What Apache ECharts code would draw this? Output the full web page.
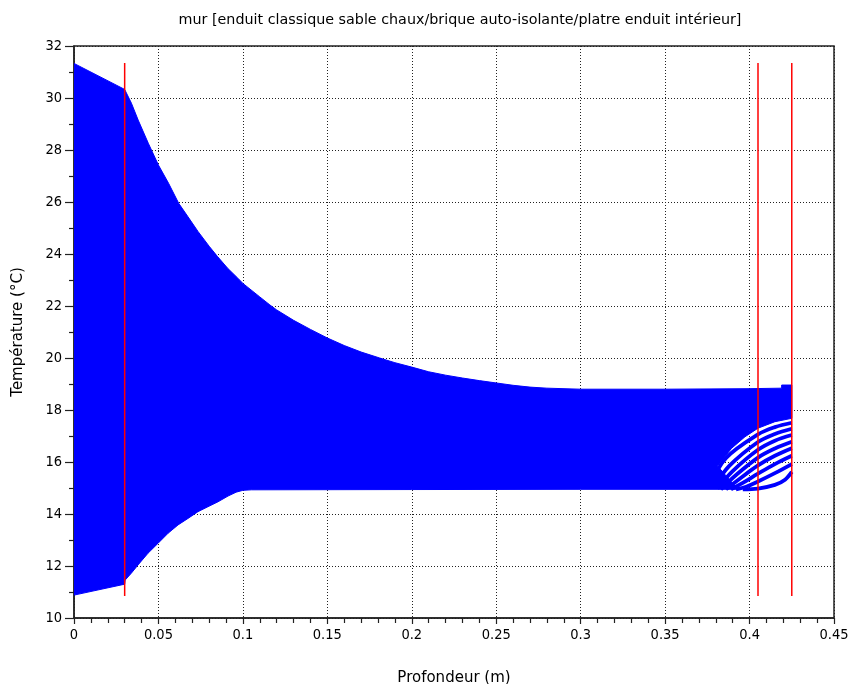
<!DOCTYPE html>
<html>
<head>
<meta charset="utf-8">
<script src="https://cdn.jsdelivr.net/npm/echarts@6/dist/echarts.min.js"></script>
<style>
  html, body { margin: 0; padding: 0; background: #fff; }
  #chart { width: 854px; height: 684px; }
</style>
</head>
<body>
<div id="chart"></div>
<script>
// Envelope of all temperature profiles through the wall (max / min at each depth)
const upperDepth = [0, 0.03, 0.034, 0.038, 0.044, 0.05, 0.056, 0.062, 0.0675, 0.0735, 0.08, 0.085, 0.091, 0.097, 0.1, 0.11, 0.116, 0.12, 0.13, 0.14, 0.15, 0.16, 0.17, 0.181, 0.19, 0.2, 0.21, 0.22, 0.23, 0.24, 0.25, 0.26, 0.27, 0.28, 0.3, 0.35, 0.4, 0.419, 0.419, 0.425];
const upperTemp  = [31.33, 30.33, 29.8, 29.15, 28.26, 27.42, 26.72, 25.95, 25.43, 24.86, 24.3, 23.9, 23.45, 23.07, 22.87, 22.35, 22.04, 21.85, 21.45, 21.1, 20.77, 20.48, 20.23, 20.0, 19.82, 19.65, 19.47, 19.34, 19.23, 19.13, 19.04, 18.95, 18.88, 18.84, 18.8, 18.8, 18.82, 18.84, 18.96, 18.96];

// Lower edge of the solid band; near the interior surface it closes the
// corner where the profiles merge, then follows their upper limit
const lowerDepth = [0, 0.03, 0.0303, 0.0339, 0.0379, 0.0438, 0.0497, 0.0557, 0.0616, 0.0675, 0.0734, 0.0793, 0.0853, 0.0912, 0.096, 0.1, 0.105, 0.2, 0.3, 0.393, 0.381, 0.3894, 0.3973, 0.405, 0.415, 0.425];
const lowerTemp  = [10.88, 11.3, 11.46, 11.72, 12.04, 12.49, 12.87, 13.26, 13.58, 13.83, 14.09, 14.28, 14.47, 14.69, 14.84, 14.91, 14.93, 14.94, 14.95, 14.95, 15.85, 16.53, 16.97, 17.3, 17.55, 17.68];

// Individual profiles in the plaster layer near the interior surface
const fanDepth = [
  [0.396, 0.405, 0.415, 0.421, 0.425],
  [0.392, 0.398, 0.405, 0.415, 0.425],
  [0.389, 0.396, 0.405, 0.415, 0.425],
  [0.386, 0.394, 0.405, 0.415, 0.425],
  [0.383, 0.392, 0.405, 0.415, 0.425],
  [0.381, 0.390, 0.405, 0.415, 0.425],
  [0.379, 0.388, 0.405, 0.415, 0.425],
  [0.377, 0.386, 0.405, 0.415, 0.425]
];
const fanTemp = [
  [14.95, 14.98, 15.12, 15.32, 15.62],
  [14.95, 15.05, 15.25, 15.57, 15.92],
  [14.95, 15.2, 15.55, 15.92, 16.24],
  [14.95, 15.35, 15.87, 16.24, 16.53],
  [14.95, 15.5, 16.17, 16.52, 16.78],
  [14.98, 15.65, 16.47, 16.82, 17.04],
  [15.05, 15.85, 16.77, 17.08, 17.28],
  [15.15, 16.15, 17.06, 17.34, 17.51]
];

// Layer interfaces (m) and the vertical span of the marker lines (°C)
const interfaces = [0.03, 0.405, 0.425];
const interfaceSpan = [10.85, 31.35];

const xTicks = { min: 0, max: 0.45, step: 0.05 };
const yTicks = { min: 10, max: 32, step: 2 };

const TICK_FONT = '"DejaVu Sans Condensed", "Liberation Sans", sans-serif';
const TEXT_FONT = '"DejaVu Sans", "Liberation Sans", sans-serif';
const BLUE = '#0000ff';

const series = [];

// Filled band between the envelopes
series.push({
  type: 'custom',
  coordinateSystem: 'cartesian2d',
  data: [[upperDepth[0], upperTemp[0]]],
  clip: true,
  silent: true,
  z: 2,
  renderItem: function (params, api) {
    const pts = [];
    for (let i = 0; i < upperDepth.length; i++) pts.push(api.coord([upperDepth[i], upperTemp[i]]));
    for (let i = lowerDepth.length - 1; i >= 0; i--) pts.push(api.coord([lowerDepth[i], lowerTemp[i]]));
    return { type: 'polygon', shape: { points: pts }, style: { fill: BLUE, stroke: BLUE, lineWidth: 1 } };
  }
});

fanDepth.forEach(function (xs, k) {
  series.push({
    type: 'line',
    data: xs.map(function (x, i) { return [x, fanTemp[k][i]]; }),
    showSymbol: false,
    smooth: 0.35,
    silent: true,
    z: 3,
    lineStyle: { color: BLUE, width: 3.8 }
  });
});

interfaces.forEach(function (x) {
  series.push({
    type: 'line',
    data: [[x, interfaceSpan[0]], [x, interfaceSpan[1]]],
    showSymbol: false,
    silent: true,
    z: 5,
    lineStyle: { color: '#ff0000', width: 1.5 }
  });
});

const chart = echarts.init(document.getElementById('chart'), null, { renderer: 'canvas' });
chart.setOption({
  animation: false,
  backgroundColor: '#ffffff',
  title: {
    text: 'mur [enduit classique sable chaux/brique auto-isolante/platre enduit intérieur]',
    left: 455, top: 8, textAlign: 'center',
    textStyle: { fontFamily: TEXT_FONT, fontSize: 14.3, fontWeight: 'normal', color: '#000' }
  },
  grid: {
    left: 74, right: 20, top: 46, bottom: 66,
    containLabel: false, outerBoundsMode: 'none',
    show: true, borderColor: '#222', borderWidth: 1.5, backgroundColor: 'transparent'
  },
  xAxis: {
    type: 'value',
    min: xTicks.min, max: xTicks.max, interval: xTicks.step,
    name: 'Profondeur (m)', nameLocation: 'middle', nameGap: 53,
    nameTextStyle: { fontFamily: TEXT_FONT, fontSize: 15, color: '#000' },
    axisLine: { show: true, onZero: false, lineStyle: { color: '#222', width: 1.5 } },
    axisTick: { show: true, inside: false, length: 6, lineStyle: { color: '#222', width: 1.2 } },
    minorTick: { show: true, splitNumber: 5, length: 5, lineStyle: { color: '#222', width: 1.2 } },
    axisLabel: {
      margin: 10, fontFamily: TICK_FONT, fontSize: 14.5, color: '#000',
      formatter: function (v) { return String(+v.toFixed(2)); }
    },
    splitLine: { show: true, lineStyle: { color: '#222', type: [1, 2], width: 1 } }
  },
  yAxis: {
    type: 'value',
    min: yTicks.min, max: yTicks.max, interval: yTicks.step,
    name: 'Température (°C)', nameLocation: 'middle', nameGap: 48,
    nameTextStyle: { fontFamily: TEXT_FONT, fontSize: 15, color: '#000' },
    axisLine: { show: true, onZero: false, lineStyle: { color: '#222', width: 1.5 } },
    axisTick: { show: true, inside: false, length: 9, lineStyle: { color: '#222', width: 1.2 } },
    minorTick: { show: true, splitNumber: 2, length: 5, lineStyle: { color: '#222', width: 1.2 } },
    axisLabel: { margin: 12, fontFamily: TICK_FONT, fontSize: 14.5, color: '#000' },
    splitLine: { show: true, lineStyle: { color: '#222', type: [1, 2], width: 1 } }
  },
  series: series
});
</script>
</body>
</html>
